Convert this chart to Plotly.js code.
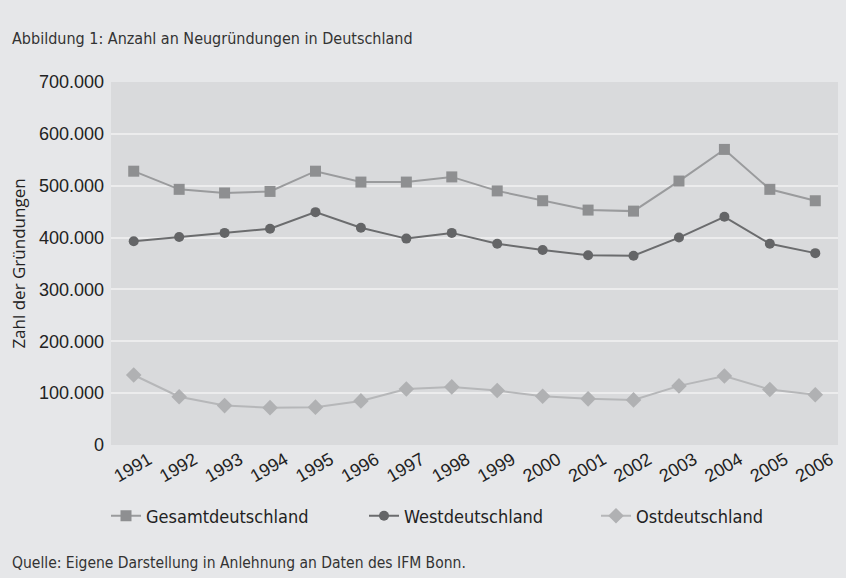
<!DOCTYPE html>
<html><head><meta charset="utf-8">
<script src="https://cdn.plot.ly/plotly-3.0.1.min.js"></script>
<style>html,body{margin:0;padding:0;background:#e6e7e9;}#c{width:846px;height:578px;}</style>
</head><body><div id="c"></div>
<script>
const years = ['1991','1992','1993','1994','1995','1996','1997','1998','1999','2000','2001','2002','2003','2004','2005','2006'];
const gesamt = [528000,493000,486000,489000,528000,507000,507000,517000,490000,471000,453000,451000,509000,570000,493000,471000];
const west = [393000,401000,409000,417000,449000,419000,398000,409000,388000,376000,366000,365000,400000,440000,388000,370000];
const ost = [135000,93000,76000,72000,73000,85000,108000,112000,105000,94000,89000,87000,114000,133000,107000,97000];
const seriesNames = ['Gesamtdeutschland','Westdeutschland','Ostdeutschland'];

const narrow = '"DejaVu Sans Condensed", "Open Sans", sans-serif';
const traces = [
  {x: years, y: gesamt, name: seriesNames[0], legend:'legend', mode:'lines+markers', line:{color:'#9a9b9d', width:2}, marker:{symbol:'square', size:11, color:'#8e8f91'}},
  {x: years, y: west, name: seriesNames[1], legend:'legend2', mode:'lines+markers', line:{color:'#6b6c6e', width:2}, marker:{symbol:'circle', size:10, color:'#646567'}},
  {x: years, y: ost, name: seriesNames[2], legend:'legend3', mode:'lines+markers', line:{color:'#b6b7b9', width:2}, marker:{symbol:'diamond', size:12, color:'#b0b1b3'}}
];
const legFont = {family:narrow, size:18, color:'#222'};
const legY = -0.1956;
function leg(xpx){ return {orientation:'h', x:(xpx-111)/727, xanchor:'left', y:legY, yanchor:'middle', bgcolor:'rgba(0,0,0,0)', font:legFont}; }
const layout = {
  width: 846, height: 578,
  paper_bgcolor: '#e6e7e9', plot_bgcolor: '#d9dadc',
  margin: {l:111, r:8, t:82, b:133},
  separators: ',.',
  font: {family: '"Liberation Sans", Arial, sans-serif', color:'#222', size:18},
  xaxis: {type:'category', range:[-0.5,15.5], showgrid:false, zeroline:false, showline:false,
    tickangle:-30, tickfont:{size:18, color:'#222'}, ticks:'', ticklabelshift:15, ticklabelstandoff:0},
  yaxis: {range:[0,700000], tickvals:[0,100000,200000,300000,400000,500000,600000,700000], tickformat:',d',
    showgrid:true, gridcolor:'#ececed', gridwidth:2, zeroline:false, showline:false,
    tickfont:{size:18, color:'#222'}, ticks:'', ticklabelstandoff:6,
    title:{text:'Zahl der Gründungen', font:{family:'"Open Sans", sans-serif', size:17, color:'#222'}, standoff:8}},
  legend: leg(106), legend2: leg(364), legend3: leg(596),
  showlegend: true,
  annotations: [
    {text:'Abbildung 1: Anzahl an Neugründungen in Deutschland', xref:'paper', yref:'paper', x:-111/727, xshift:10, y:1, yshift:44, xanchor:'left', yanchor:'middle', showarrow:false, font:{family:narrow, size:16, color:'#333'}},
    {text:'Quelle: Eigene Darstellung in Anlehnung an Daten des IFM Bonn.', xref:'paper', yref:'paper', x:-111/727, xshift:10, y:0, yshift:-118, xanchor:'left', yanchor:'middle', showarrow:false, font:{family:narrow, size:15.5, color:'#333'}}
  ]
};
Plotly.newPlot('c', traces, layout, {displayModeBar:false, staticPlot:true});
</script>
</body></html>
